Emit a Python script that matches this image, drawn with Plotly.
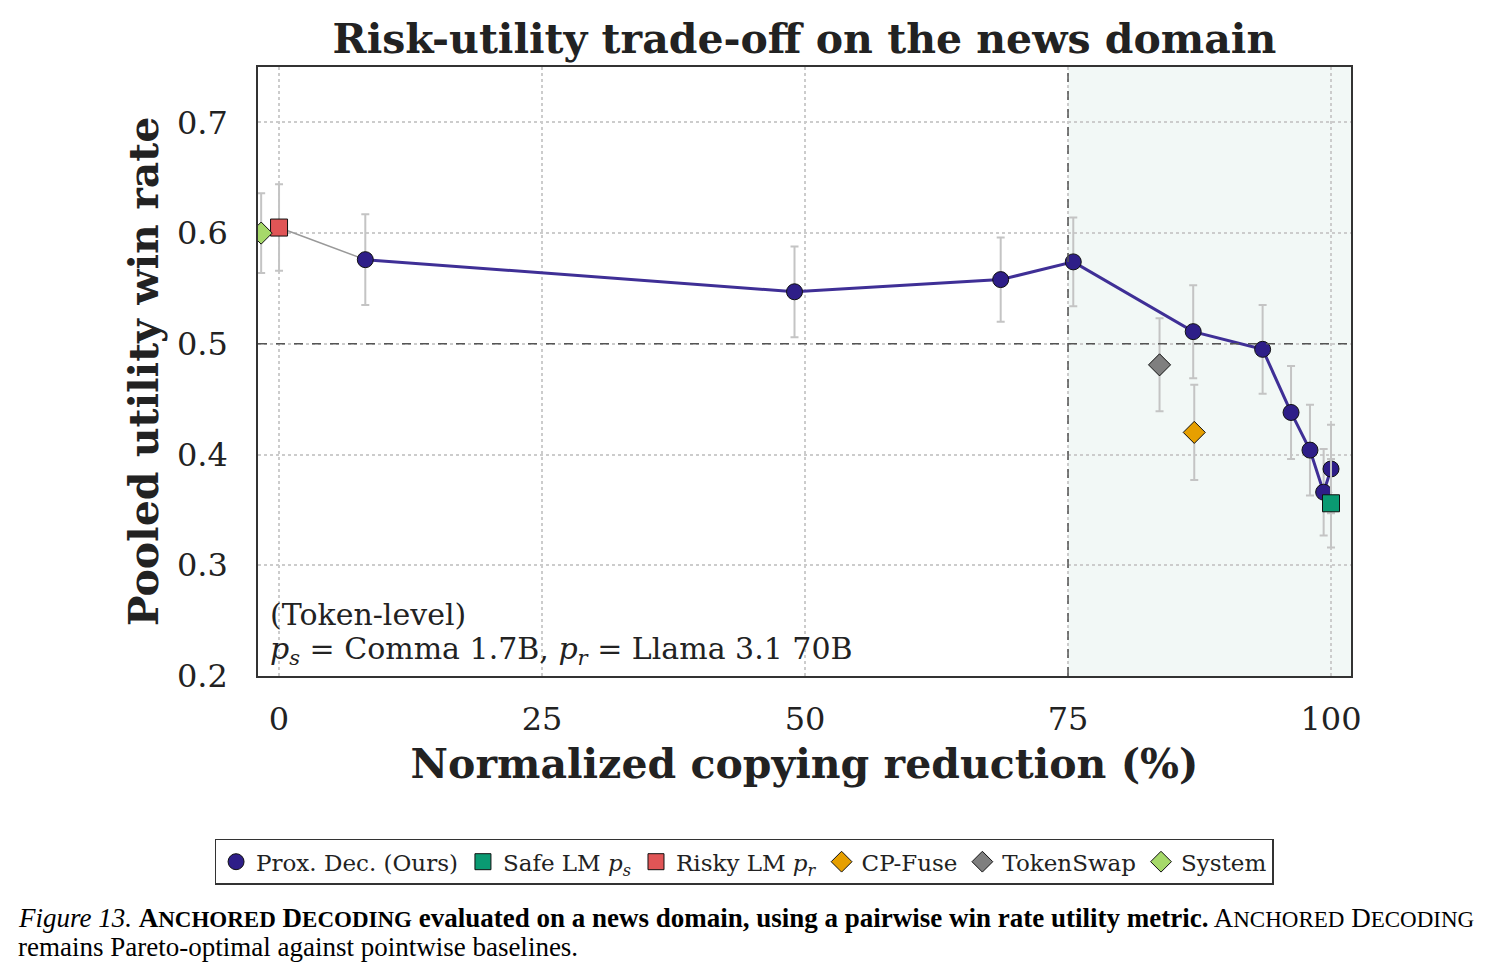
import plotly.graph_objects as go

# ---- data ----
prox_x = [8.2, 49.0, 68.6, 75.5, 86.9, 93.5, 96.2, 98.0, 99.3, 100.0]
prox_y = [0.576, 0.547, 0.558, 0.574, 0.511, 0.495, 0.438, 0.404, 0.366, 0.387]
prox_err = [0.041, 0.041, 0.038, 0.040, 0.042, 0.040, 0.042, 0.041, 0.039, 0.040]

base_names = ["Safe LM <i>p<sub>s</sub></i>", "Risky LM <i>p<sub>r</sub></i>", "CP-Fuse", "TokenSwap", "System"]
base_x = [100.0, 0.0, 87.0, 83.7, -1.7]
base_y = [0.356, 0.605, 0.420, 0.481, 0.600]
base_err = [0.040, 0.039, 0.043, 0.042, 0.036]
base_symbols = ["square", "square", "diamond", "diamond", "diamond"]
base_colors = ["#0a9a72", "#e05556", "#e69f00", "#7f7f7f", "#a6d96a"]

x_ticks = [0, 25, 50, 75, 100]
y_ticks = [0.2, 0.3, 0.4, 0.5, 0.6, 0.7]

SERIF = "DejaVu Serif"
EB = dict(type="data", color="#c4c4c4", thickness=2, width=4)

fig = go.Figure()

# shaded region and reference lines
fig.add_vrect(x0=75, x1=102, fillcolor="#f2f8f6", line_width=0, layer="below")
fig.add_vline(x=75, line=dict(color="#555555", width=1.5, dash="dash"))
fig.add_hline(y=0.5, line=dict(color="#555555", width=1.5, dash="dash"))

# connector from risky LM to first point
fig.add_trace(go.Scatter(x=[base_x[1], prox_x[0]], y=[base_y[1], prox_y[0]], mode="lines",
                         line=dict(color="#999999", width=1.5), showlegend=False, hoverinfo="skip"))
# main curve
fig.add_trace(go.Scatter(x=prox_x, y=prox_y, mode="lines", line=dict(color="#3f2f96", width=3),
                         showlegend=False, hoverinfo="skip"))
fig.add_trace(go.Scatter(x=prox_x, y=prox_y, mode="markers", name="Prox. Dec. (Ours)",
                         marker=dict(symbol="circle", size=16, color="#2e1e88", line=dict(color="#111111", width=1)),
                         error_y=dict(array=prox_err, **EB)))

for n, xx, yy, ee, s, c in zip(base_names, base_x, base_y, base_err, base_symbols, base_colors):
    fig.add_trace(go.Scatter(x=[xx], y=[yy], mode="markers", name=n,
                             marker=dict(symbol=s, size=17, color=c, line=dict(color="#111111", width=1)),
                             error_y=dict(array=[ee], **EB)))

info_lines = ["(Token-level)",
              "<i>p<sub>s</sub></i> = Comma 1.7B, <i>p<sub>r</sub></i> = Llama 3.1 70B"]
for txt, yy in zip(info_lines, [614, 650]):
    fig.add_annotation(xref="paper", yref="paper", x=(268 - 258) / 1093, y=(676 - yy) / 609,
                       xanchor="left", yanchor="middle", align="left", showarrow=False, text=txt,
                       font=dict(family=SERIF, size=30, color="#222222"))

sc = '<span style="font-size:23px">'
cap1 = ("<i>Figure 13.</i> <b>A" + sc + "NCHORED</span> D" + sc + "ECODING</span> evaluated on a news domain, "
        "using a pairwise win rate utility metric.</b> A" + sc + "NCHORED</span> D" + sc + "ECODING</span>")
cap2 = "remains Pareto-optimal against pointwise baselines."
for txt, yy in [(cap1, 918), (cap2, 947)]:
    fig.add_annotation(xref="paper", yref="paper", x=(16 - 258) / 1093, y=(676 - yy) / 609,
                       xanchor="left", yanchor="middle", align="left", showarrow=False, text=txt,
                       font=dict(family="Liberation Serif", size=27, color="#000000"))

fig.update_layout(
    width=1488, height=979,
    margin=dict(l=258, r=137, t=67, b=303),
    paper_bgcolor="white", plot_bgcolor="white",
    font=dict(family=SERIF, color="#222222"),
    title=dict(text="<b>Risk-utility trade-off on the news domain</b>", x=0.5406, xanchor="center",
               y=0.961, yanchor="middle", font=dict(family=SERIF, size=41, color="#222222")),
    showlegend=True,
    legend=dict(orientation="h", x=0.4447, xanchor="center", y=-0.305, yanchor="middle",
                bordercolor="#333333", borderwidth=1.5, bgcolor="white",
                font=dict(family=SERIF, size=23, color="#222222")),
)
fig.update_xaxes(range=[-2.0, 101.9], tickvals=x_ticks, ticktext=[str(v) for v in x_ticks],
                 showgrid=True, gridcolor="#cccccc", griddash="dot", gridwidth=1.5,
                 showline=True, linecolor="#333333", linewidth=1.5, mirror=True, zeroline=False,
                 ticks="", ticklabelstandoff=14, tickfont=dict(family=SERIF, size=32, color="#222222"),
                 title=dict(text="<b>Normalized copying reduction (%)</b>", standoff=12,
                            font=dict(family=SERIF, size=41, color="#222222")))
fig.update_yaxes(range=[0.2, 0.75], tickvals=y_ticks, ticktext=[f"{v:.1f}" for v in y_ticks],
                 showgrid=True, gridcolor="#cccccc", griddash="dot", gridwidth=1.5,
                 showline=True, linecolor="#333333", linewidth=1.5, mirror=True, zeroline=False,
                 ticks="", ticklabelstandoff=22, tickfont=dict(family=SERIF, size=32, color="#222222"),
                 title=dict(text="<b>Pooled utility win rate</b>", standoff=6,
                            font=dict(family=SERIF, size=41, color="#222222")))

fig.write_html("out.html")
